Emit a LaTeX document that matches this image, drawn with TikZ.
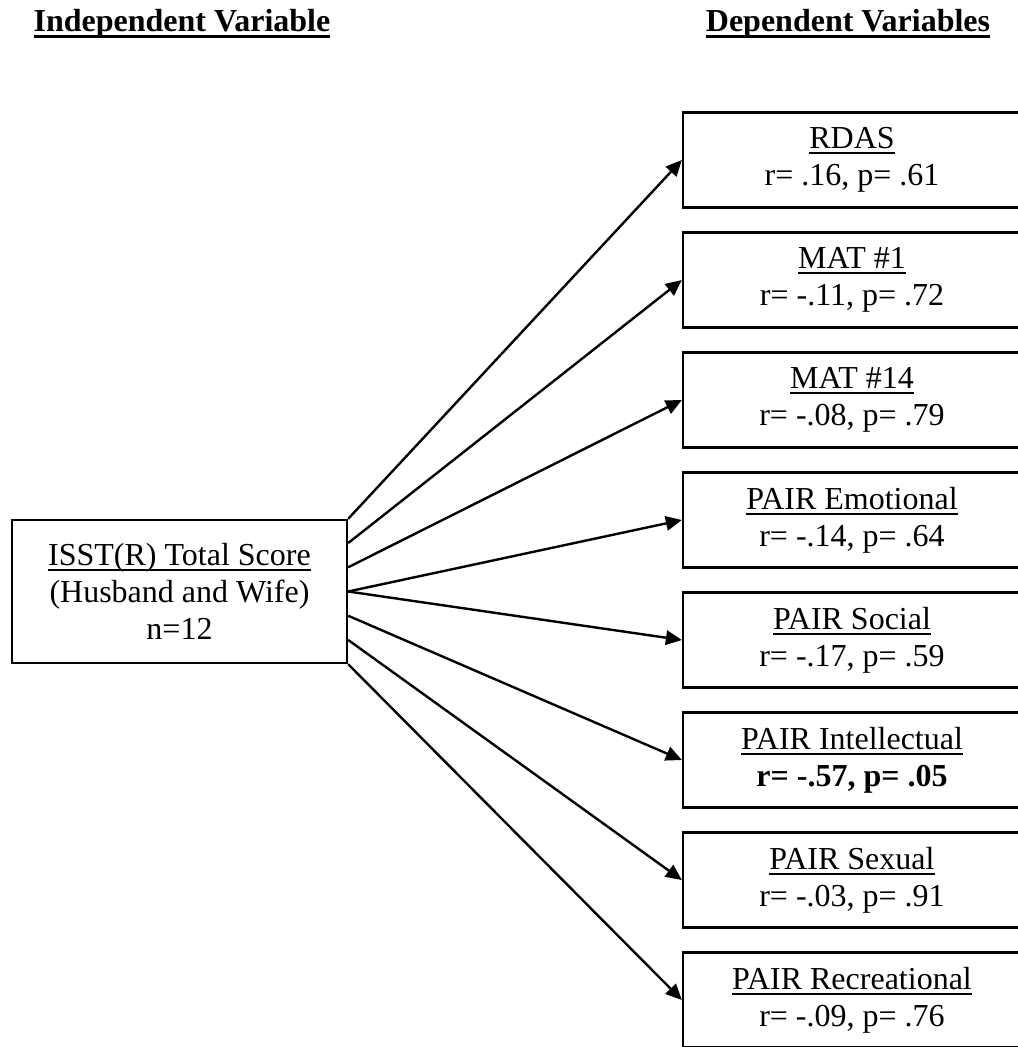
\documentclass[tikz,border=0pt]{standalone}
\usepackage{fontspec}
\setmainfont{Liberation Serif}
\usetikzlibrary{arrows.meta,calc}
\newcommand{\hdul}[1]{\setbox0=\hbox{#1}\rlap{\rule[-2.6pt]{\wd0}{1.1pt}}\box0}
\newcommand{\boxul}[1]{\setbox0=\hbox{#1}\rlap{\rule[-2pt]{\wd0}{0.75pt}}\box0}
\tikzset{varbox/.style = {draw, line width=0.9pt, rectangle, align=center, inner sep=0pt, minimum width=126.7pt, minimum height=35.6pt, font=\fontsize{12}{13.8}\selectfont}}
\tikzset{head/.style = {anchor=base, inner sep=0pt, font=\fontsize{12}{13.8}\selectfont\bfseries}}
\tikzset{>={Triangle[length=6pt,width=5.4pt]}}

\begin{document}
\begin{tikzpicture}[x=0.375pt,y=-0.375pt]
    \useasboundingbox(0,0)rectangle(1018,1047);
    \clip(0,0)rectangle(1018,1047);
    % column headings
    \node[head](ivhead)at(182,31){\hdul{Independent Variable}};
    \node[head](dvhead)at(848,31){\hdul{Dependent Variables}};
    % independent variable
    \node[varbox, minimum width=125.6pt, minimum height=53.6pt](isst)at(179.5,591.5){\boxul{ISST(R) Total Score}\\(Husband and Wife)\\n=12};
    % dependent variables
    \node[varbox](rdas)at(852,160){\boxul{RDAS}\\r= .16, p= .61};
    \node[varbox](matone)at(852,280){\boxul{MAT \#1}\\r= -.11, p= .72};
    \node[varbox](matfourteen)at(852,400){\boxul{MAT \#14}\\r= -.08, p= .79};
    \node[varbox](pairemo)at(852,520){\boxul{PAIR Emotional}\\r= -.14, p= .64};
    \node[varbox](pairsoc)at(852,640){\boxul{PAIR Social}\\r= -.17, p= .59};
    \node[varbox](pairint)at(852,760){\boxul{PAIR Intellectual}\\\textbf{r= -.57, p= .05}};
    \node[varbox](pairsex)at(852,880){\boxul{PAIR Sexual}\\r= -.03, p= .91};
    \node[varbox](pairrec)at(852,1000){\boxul{PAIR Recreational}\\r= -.09, p= .76};
    % correlations
    \draw[->,line width=0.9pt](isst.north east)--(rdas.west);
    \draw[->,line width=0.9pt]($(isst.north east)!1/6!(isst.south east)$)--(matone.west);
    \draw[->,line width=0.9pt]($(isst.north east)!2/6!(isst.south east)$)--(matfourteen.west);
    \draw[->,line width=0.9pt](isst.east)--(pairemo.west);
    \draw[->,line width=0.9pt](isst.east)--(pairsoc.west);
    \draw[->,line width=0.9pt]($(isst.north east)!4/6!(isst.south east)$)--(pairint.west);
    \draw[->,line width=0.9pt]($(isst.north east)!5/6!(isst.south east)$)--(pairsex.west);
    \draw[->,line width=0.9pt](isst.south east)--(pairrec.west);
\end{tikzpicture}
\end{document}
